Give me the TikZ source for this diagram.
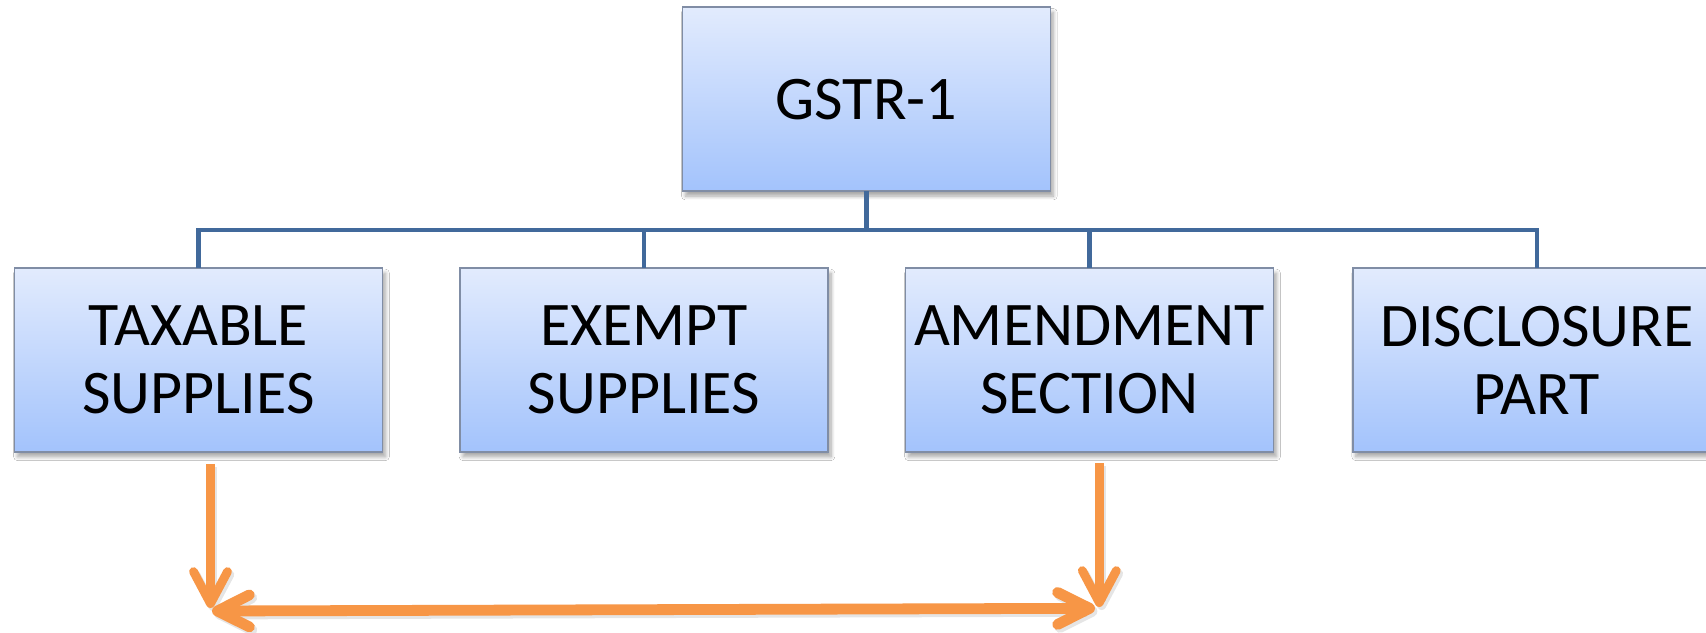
\documentclass[tikz,border=0pt]{standalone}
\usepackage{fontspec}
\setmainfont{Carlito}
\usetikzlibrary{arrows.meta,shadows.blur}

\definecolor{boxtop}{RGB}{226,235,253}
\definecolor{boxbot}{RGB}{163,195,252}
\definecolor{boxline}{RGB}{128,141,165}
\definecolor{treeblue}{RGB}{65,105,155}
\definecolor{orangeln}{RGB}{247,150,70}

\tikzset{
  card/.style={draw=boxline, line width=0.9pt, top color=boxtop, bottom color=boxbot,
    minimum width=184pt, minimum height=91.85pt, inner sep=0pt, outer sep=0pt,
    align=center, font=\fontsize{31pt}{34pt}\selectfont,
    blur shadow={shadow xshift=1.5pt, shadow yshift=-2.5pt, shadow blur steps=8, shadow opacity=35}},
  tree/.style={draw=treeblue, line width=2.1pt},
  flow/.style={draw=orangeln, line width=4.4pt, -{Straight Barb[length=16pt,width=17pt,round]}},
  link/.style={draw=orangeln, line width=5.4pt,
    {Straight Barb[length=16pt,width=16pt,round]}-{Straight Barb[length=16pt,width=16pt,round]}},
  flowshade/.style={draw=black, opacity=0.10, transform canvas={shift={(1.2pt,-1.5pt)}}},
}

\begin{document}
\begin{tikzpicture}[x=0.5pt,y=-0.5pt]
  % canvas
  \fill[white] (0,0) rectangle (1706,632);
  \useasboundingbox (0,0) rectangle (1706,632);

  % return and its four parts
  \node[card] (gstr) at (866.4,99.2)  {GSTR-1};
  \node[card] (tax)  at (198.5,359.9) {TAXABLE\\SUPPLIES};
  \node[card] (exm)  at (644,359.9)   {EXEMPT\\SUPPLIES};
  \node[card] (amd)  at (1089.5,359.9){AMENDMENT\\SECTION};
  \node[card] (dis)  at (1536.7,359.9){DISCLOSURE\\PART};

  % tree connectors
  \coordinate (bus) at (866.4,230);
  \draw[tree] (gstr.south) -- (bus);
  \draw[tree] (tax.north) |- (bus);
  \draw[tree] (exm.north) |- (bus);
  \draw[tree] (amd.north) |- (bus);
  \draw[tree] (dis.north) |- (bus);

  % link between taxable supplies and amendments
  \coordinate (tA) at (210.5,608);
  \coordinate (tB) at (1099.3,607);
  \coordinate (hL) at (212,611);
  \coordinate (hR) at (1095,608.3);

  \draw[flow, flowshade] ([xshift=6pt,yshift=-6.1pt]tax.south) -- (tA);
  \draw[flow, flowshade] ([xshift=4.9pt,yshift=-5.7pt]amd.south) -- (tB);
  \draw[link, flowshade] (hL) -- (hR);

  \draw[flow] ([xshift=6pt,yshift=-6.1pt]tax.south) -- (tA);
  \draw[flow] ([xshift=4.9pt,yshift=-5.7pt]amd.south) -- (tB);
  \draw[link] (hL) -- (hR);
\end{tikzpicture}
\end{document}
